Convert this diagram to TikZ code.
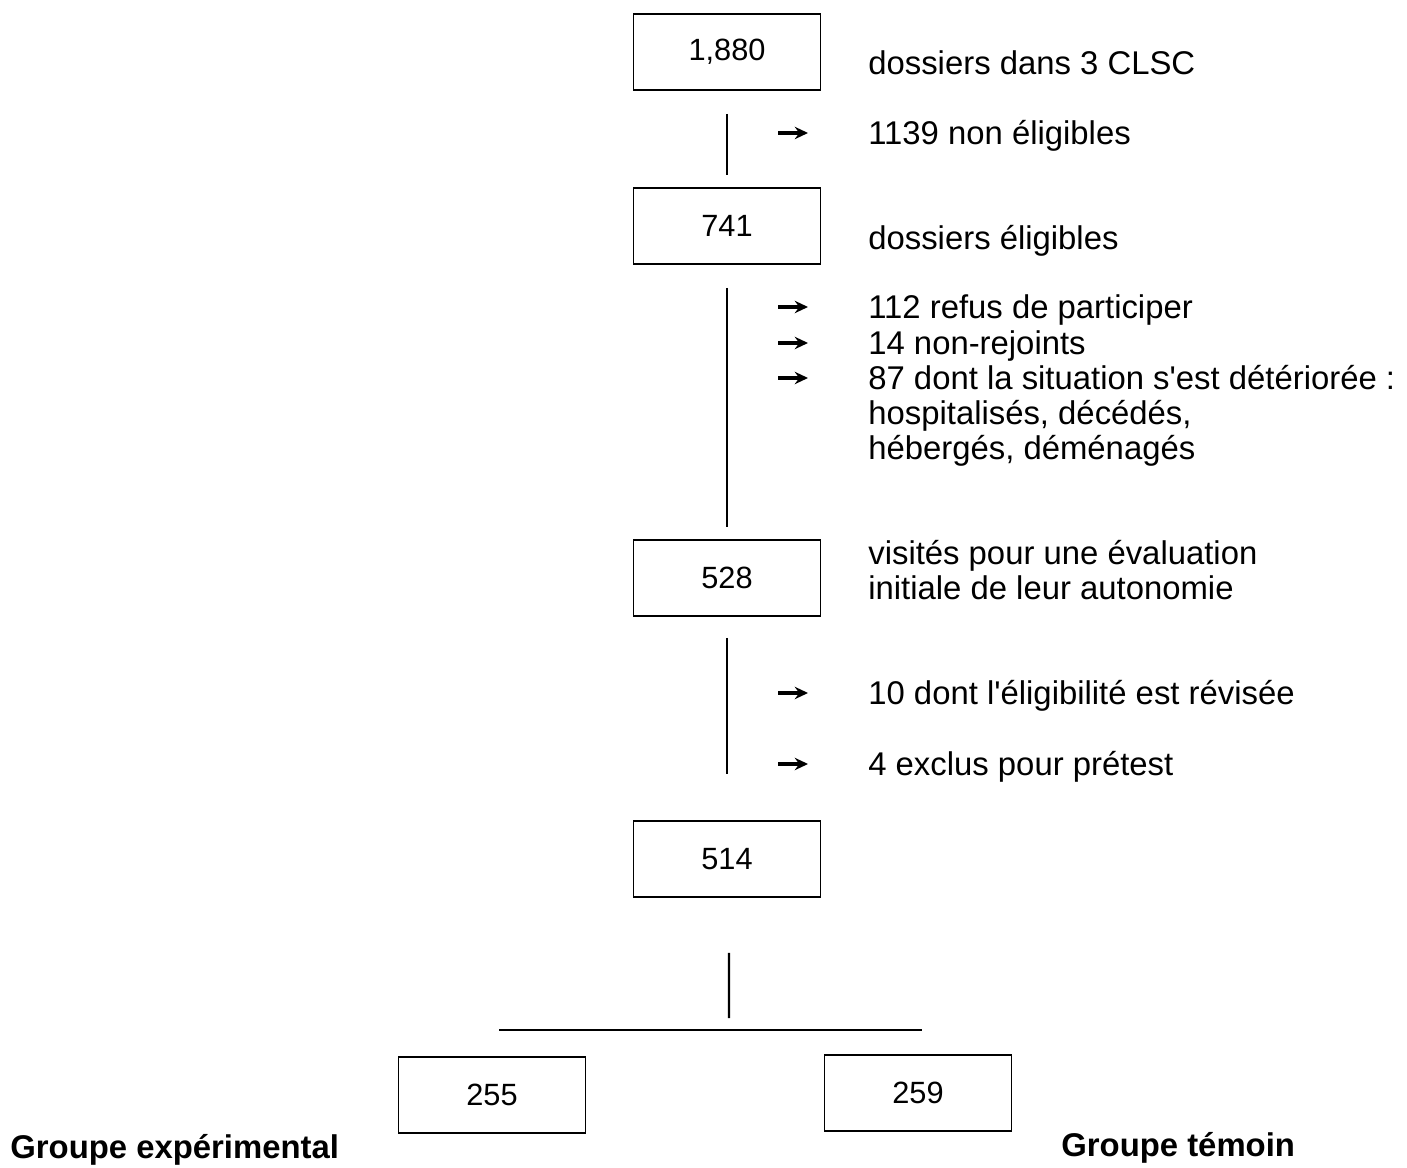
\documentclass[tikz,border=0pt]{standalone}
\usepackage{fontspec}
\setmainfont{Liberation Sans}
\usepackage{tikz}
\usetikzlibrary{arrows.meta,positioning}

\begin{document}
\begin{tikzpicture}[
  x=0.02cm,y=-0.02cm,
  box/.style={draw,line width=1.1pt,minimum width=3.74cm,minimum height=1.52cm,
              inner sep=0pt,font=\fontsize{17.5}{20}\selectfont},
  lbl/.style={anchor=west,inner sep=0pt,text height=13.4pt,text depth=0pt,
              font=\fontsize{18.7}{22}\selectfont},
  grp/.style={lbl,font=\fontsize{18.7}{22}\selectfont\bfseries},
  ln/.style={line width=1.3pt},
  arr/.style={-{Stealth[length=7.5pt,width=7pt]},line width=1.8pt}
]
\useasboundingbox (0,0) rectangle (1407,1168);

% boxes
\node[box] (n1880) at (727,52) {1,880};
\node[box] (n741) at (727,226) {741};
\node[box] (n528) at (727,578) {528};
\node[box] (n514) at (727,859) {514};
\node[box] (n255) at (492,1095) {255};
\node[box] (n259) at (918,1093) {259};

% texts on the right
\node[lbl] (t1) at (868,63) {dossiers dans 3 CLSC};
\node[lbl] (t2) at (868,133) {1139 non éligibles};
\node[lbl] (t3) at (868,238) {dossiers éligibles};
\node[lbl] (t4) at (868,307) {112 refus de participer};
\node[lbl] (t5) at (868,343) {14 non-rejoints};
\node[lbl] (t6) at (868,378) {87 dont la situation s\textquotesingle est détériorée :};
\node[lbl] (t6b) at (868,413) {hospitalisés, décédés,};
\node[lbl] (t6c) at (868,448) {hébergés, déménagés};
\node[lbl] (t7) at (868,553) {visités pour une évaluation};
\node[lbl] (t7b) at (868,588) {initiale de leur autonomie};
\node[lbl] (t8) at (868,693) {10 dont l\textquotesingle éligibilité est révisée};
\node[lbl] (t9) at (868,764) {4 exclus pour prétest};

\node[grp] (gexp) at (10,1147) {Groupe expérimental};
\node[grp] (gtem) at (1061,1145) {Groupe témoin};

% vertical lines
\draw[ln] ([yshift=-0.46cm]n1880.south) -- ([yshift=0.24cm]n741.north);
\draw[ln] ([yshift=-0.46cm]n741.south) -- ([yshift=0.24cm]n528.north);
\draw[ln] ([yshift=-0.42cm]n528.south) -- ([yshift=0.92cm]n514.north);
\coordinate (split) at (729,1018);
\draw[ln] ([xshift=0.04cm,yshift=-1.1cm]n514.south) -- (split);
\coordinate (sl) at (499,1030);
\coordinate (sr) at (922,1030);
\draw[ln] (sl) -- (sr);

% arrows
\draw[arr] ([xshift=-1.8cm]t2.west) -- ([xshift=-1.2cm]t2.west);
\draw[arr] ([xshift=-1.8cm]t4.west) -- ([xshift=-1.2cm]t4.west);
\draw[arr] ([xshift=-1.8cm]t5.west) -- ([xshift=-1.2cm]t5.west);
\draw[arr] ([xshift=-1.8cm]t6.west) -- ([xshift=-1.2cm]t6.west);
\draw[arr] ([xshift=-1.8cm]t8.west) -- ([xshift=-1.2cm]t8.west);
\draw[arr] ([xshift=-1.8cm]t9.west) -- ([xshift=-1.2cm]t9.west);
\end{tikzpicture}
\end{document}
